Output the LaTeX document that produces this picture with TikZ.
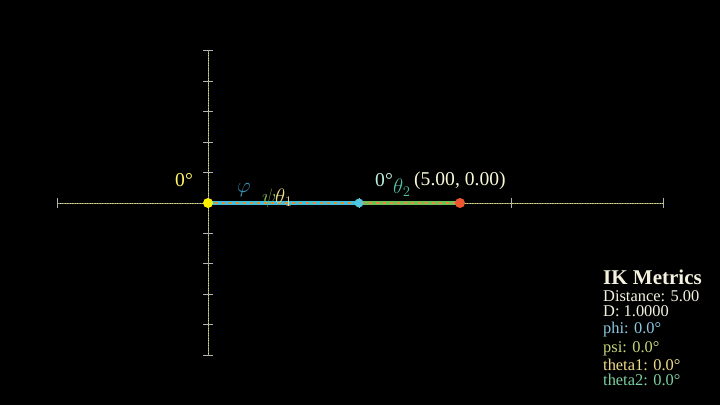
\RequirePackage{fix-cm}
\documentclass[tikz,border=0pt]{standalone}
\usepackage{fontspec}
\setmainfont{Liberation Serif}
\begin{document}
\begin{tikzpicture}[x=1pt,y=-1pt,
  axisline/.style={draw={rgb,255:red,150;green,150;blue,140},line width=0.9pt},
  axisdots/.style={draw={rgb,255:red,225;green,225;blue,90},line width=0.6pt,dash pattern=on 1pt off 1.5pt},
  tickmark/.style={draw=gray!60!white,line width=1pt},
  lbl/.style={inner sep=0pt,anchor=base west,font=\fontsize{19.6}{21}\selectfont},
  mlbl/.style={inner sep=0pt,anchor=base west,font=\fontsize{21}{23}\selectfont},
  met/.style={inner sep=0pt,anchor=base west,text depth=0pt,text height=10.5pt,font=\fontsize{16.4}{18}\selectfont},
  dot/.style={circle,inner sep=0pt,draw=none}]
\definecolor{segA}{HTML}{3FC0DD}
\definecolor{segB}{HTML}{6DC05A}
\definecolor{dashor}{HTML}{F08A30}
\definecolor{cyanish}{HTML}{8CC8E0}
\definecolor{psicol}{HTML}{C6D67A}
\definecolor{th1col}{HTML}{EEDD88}
\definecolor{th2col}{HTML}{7CCFA0}
\definecolor{cream}{HTML}{F4F2DE}
\fill[black] (0,0) rectangle (720,405);
\useasboundingbox (0,0) rectangle (720,405);
% axes
\coordinate (xl) at (57,203);
\coordinate (xr) at (663,203);
\coordinate (yt) at (208,50);
\coordinate (yb) at (208,355);
\draw[axisline] (xl) -- (xr);
\draw[axisline] (yt) -- (yb);
\draw[axisdots] (xl) -- (xr);
\draw[axisdots] (yt) -- (yb);
\foreach \x in {57,359,511,663} \draw[tickmark] (\x,198) -- (\x,208);
\foreach \y in {50,81,111,142,172,233,263,294,324,355} \draw[tickmark] (203,\y) -- (213,\y);
% arm
\coordinate (O) at (208,203);
\coordinate (J) at (359,203);
\coordinate (E) at (460,203);
\draw[segA,line width=4pt] (O) -- (J);
\draw[segB,line width=4pt] (J) -- (E);
\draw[dashor,line width=2pt,dash pattern=on 3pt off 4pt] (O) -- (E);
\node[dot,fill=yellow,minimum size=10pt] (nO) at (O) {};
\node[dot,fill=segA!90!white,minimum size=9pt] (nJ) at (J) {};
\node[dot,fill={rgb,255:red,240;green,85;blue,50},minimum size=10pt] (nE) at (E) {};
% labels
\node[lbl,text=yellow!60!white] (a0) at (175,186) {0°};
\node[mlbl,text={rgb,255:red,55;green,150;blue,185}] (phl) at (237,192) {$\varphi$};
\node[mlbl,text={rgb,255:red,140;green,190;blue,80}] (psl) at (262,203) {$\psi$};
\node[mlbl,text=th1col] (t1l) at (275,203) {$\theta_1$};
\node[lbl,text={rgb,255:red,190;green,240;blue,220}] (a1) at (375,186) {0°};
\node[mlbl,text={rgb,255:red,80;green,190;blue,160}] (t2l) at (393,193) {$\theta_2$};
\node[lbl,text={rgb,255:red,248;green,248;blue,215}] (pos) at (414,185) {(5.00, 0.00)};
% metrics
\node[inner sep=0pt,anchor=base west,text depth=0pt,font=\bfseries\fontsize{21}{22}\selectfont,text=cream] (mt) at (603,284) {IK Metrics};
\node[met,text=cream] (m1) at (603,301) {Distance: 5.00};
\node[met,text=cream] (m2) at (603,316) {D: 1.0000};
\node[met,text=cyanish] (m3) at (603,333) {phi: 0.0°};
\node[met,text=psicol] (m4) at (603,352) {psi: 0.0°};
\node[met,text=th1col] (m5) at (603,370) {theta1: 0.0°};
\node[met,text=th2col] (m6) at (603,385) {theta2: 0.0°};
\end{tikzpicture}
\end{document}
